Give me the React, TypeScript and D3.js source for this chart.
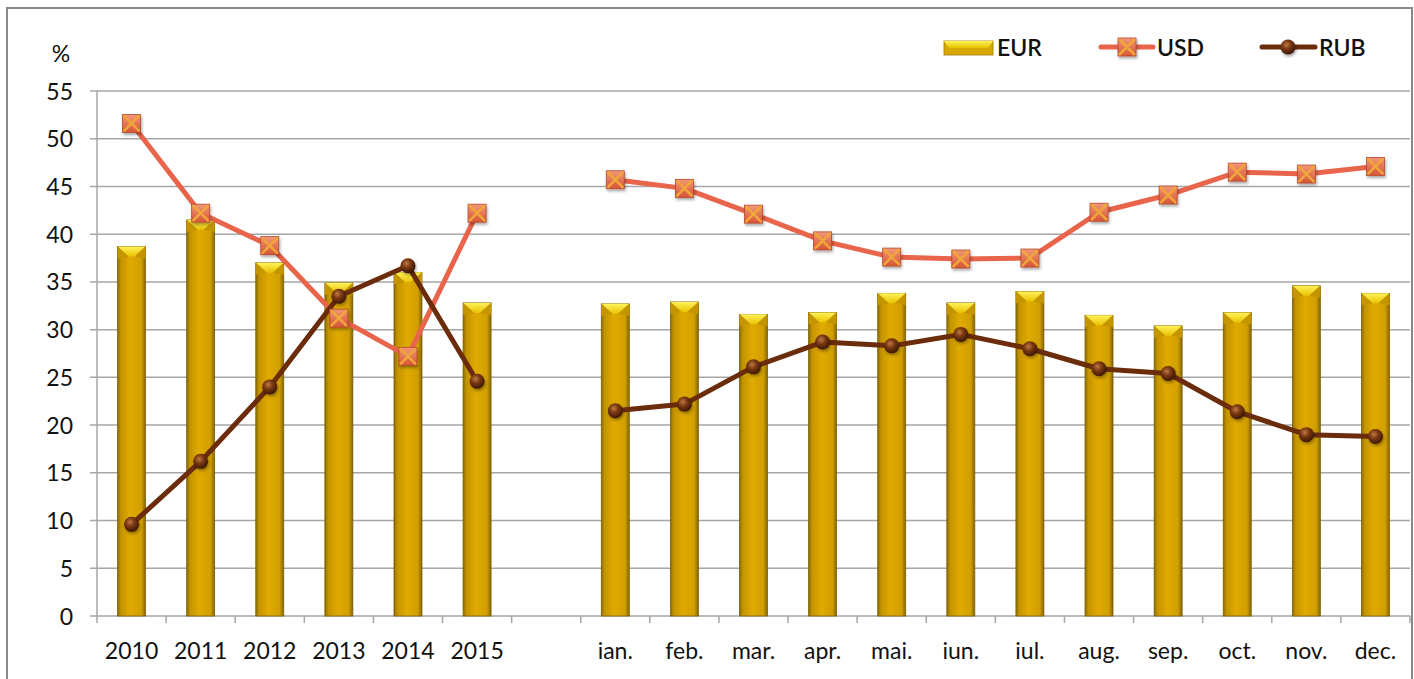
import React, { useEffect, useRef } from "react";
import * as d3 from "d3";

const categories = ["2010", "2011", "2012", "2013", "2014", "2015", "", "ian.", "feb.", "mar.", "apr.", "mai.", "iun.", "iul.", "aug.", "sep.", "oct.", "nov.", "dec."];
const eurValues: (number | null)[] = [38.7, 41.5, 37.0, 34.9, 36.0, 32.8, null, 32.7, 32.9, 31.6, 31.8, 33.8, 32.8, 34.0, 31.5, 30.4, 31.8, 34.6, 33.8];
const usdValues: (number | null)[] = [51.6, 42.2, 38.8, 31.2, 27.2, 42.2, null, 45.7, 44.8, 42.1, 39.3, 37.6, 37.4, 37.5, 42.3, 44.1, 46.5, 46.3, 47.1];
const rubValues: (number | null)[] = [9.6, 16.2, 24.0, 33.5, 36.7, 24.6, null, 21.5, 22.2, 26.1, 28.7, 28.3, 29.5, 28.0, 25.9, 25.4, 21.4, 19.0, 18.8];
const yTicks = [0, 5, 10, 15, 20, 25, 30, 35, 40, 45, 50, 55];

const W = 1414, H = 679;
const FONT = "Lato, 'Open Sans', sans-serif";

export default function App() {
  const ref = useRef<SVGSVGElement>(null);
  useEffect(() => {
    const svg = d3.select(ref.current);
    svg.selectAll("*").remove();
    const left = 97, right = 1410, top = 91, bottom = 616;
    const x = d3.scaleBand<number>().domain(d3.range(categories.length)).range([left, right]).paddingInner(0).paddingOuter(0);
    const y = d3.scaleLinear().domain([0, 55]).range([bottom, top]);

    const defs = svg.append("defs");
    const bg = defs.append("linearGradient").attr("id", "barGrad").attr("x1", 0).attr("x2", 1).attr("y1", 0).attr("y2", 0);
    bg.append("stop").attr("offset", "0%").attr("stop-color", "#8a6a05");
    bg.append("stop").attr("offset", "12%").attr("stop-color", "#c49400");
    bg.append("stop").attr("offset", "45%").attr("stop-color", "#e0aa00");
    bg.append("stop").attr("offset", "85%").attr("stop-color", "#d19f00");
    bg.append("stop").attr("offset", "100%").attr("stop-color", "#846504");
    const cg = defs.append("linearGradient").attr("id", "capGrad").attr("x1", 0).attr("x2", 0).attr("y1", 0).attr("y2", 1);
    cg.append("stop").attr("offset", "0%").attr("stop-color", "#fff35a");
    cg.append("stop").attr("offset", "100%").attr("stop-color", "#e8c200");
    const rg = defs.append("radialGradient").attr("id", "rubGrad").attr("cx", "40%").attr("cy", "35%").attr("r", "65%");
    rg.append("stop").attr("offset", "0%").attr("stop-color", "#c07a45");
    rg.append("stop").attr("offset", "45%").attr("stop-color", "#7a3812");
    rg.append("stop").attr("offset", "100%").attr("stop-color", "#3d1804");
    const ug = defs.append("linearGradient").attr("id", "usdGrad").attr("x1", 0).attr("x2", 0).attr("y1", 0).attr("y2", 1);
    ug.append("stop").attr("offset", "0%").attr("stop-color", "#f29878");
    ug.append("stop").attr("offset", "100%").attr("stop-color", "#d65535");
    const sh = defs.append("filter").attr("id", "shadow").attr("x", "-50%").attr("y", "-50%").attr("width", "200%").attr("height", "200%");
    sh.append("feDropShadow").attr("dx", 1).attr("dy", 2).attr("stdDeviation", 1.5).attr("flood-color", "#000").attr("flood-opacity", 0.35);

    // frame
    svg.append("rect").attr("x", 7).attr("y", 8).attr("width", W - 9).attr("height", H + 20)
      .attr("fill", "white").attr("stroke", "#8a8a8a").attr("stroke-width", 2);

    // gridlines
    svg.append("g").selectAll("line").data(yTicks.filter(t => t > 0)).join("line")
      .attr("x1", left - 7).attr("x2", right).attr("y1", d => y(d)).attr("y2", d => y(d))
      .attr("stroke", "#a6a6a6").attr("stroke-width", 1.5);

    // y axis line
    svg.append("line").attr("x1", left).attr("x2", left).attr("y1", top).attr("y2", bottom)
      .attr("stroke", "#a6a6a6").attr("stroke-width", 1.5);
    // x axis line
    svg.append("line").attr("x1", left - 7).attr("x2", right).attr("y1", bottom).attr("y2", bottom)
      .attr("stroke", "#a6a6a6").attr("stroke-width", 1.5);
    // x ticks
    svg.append("g").selectAll("line").data(d3.range(categories.length + 1)).join("line")
      .attr("x1", i => left + i * x.step()).attr("x2", i => left + i * x.step())
      .attr("y1", bottom).attr("y2", bottom + 7)
      .attr("stroke", "#a6a6a6").attr("stroke-width", 1.5);

    // y labels
    svg.append("g").selectAll("text").data(yTicks).join("text")
      .attr("x", 73).attr("y", d => y(d) + 8.5).attr("text-anchor", "end")
      .attr("font-family", FONT).attr("font-size", 23).attr("fill", "#111").text(d => String(d));
    svg.append("text").attr("x", 61).attr("y", 62).attr("text-anchor", "middle")
      .attr("font-family", FONT).attr("font-size", 23).attr("fill", "#111").text("%");

    // x labels
    svg.append("g").selectAll("text").data(categories).join("text")
      .attr("x", (_, i) => x(i)! + x.bandwidth() / 2).attr("y", 659).attr("text-anchor", "middle")
      .attr("font-family", FONT).attr("font-size", 23).attr("fill", "#111").text(d => d);

    // bars
    const bw = 28;
    const bars = svg.append("g").selectAll("g").data(eurValues.map((v, i) => ({ v, i })).filter(d => d.v !== null)).join("g");
    bars.append("rect")
      .attr("x", d => x(d.i)! + x.bandwidth() / 2 - bw / 2).attr("width", bw)
      .attr("y", d => y(d.v!)).attr("height", d => bottom - y(d.v!))
      .attr("fill", "url(#barGrad)").attr("stroke", "#7d6004").attr("stroke-width", 0.8);
    bars.append("path")
      .attr("d", d => {
        const cx = x(d.i)! + x.bandwidth() / 2, t = y(d.v!);
        const l = cx - bw / 2, r = cx + bw / 2;
        return `M${l},${t} L${r},${t} L${cx + 3},${t + 10} L${cx - 3},${t + 10} Z`;
      })
      .attr("fill", "url(#capGrad)");
    bars.append("path")
      .attr("d", d => {
        const cx = x(d.i)! + x.bandwidth() / 2, t = y(d.v!);
        const l = cx - bw / 2, r = cx + bw / 2;
        return `M${l},${t} L${cx - 3},${t + 10} L${l},${t + 12} Z M${r},${t} L${cx + 3},${t + 10} L${r},${t + 12} Z`;
      })
      .attr("fill", "#c59500");

    const cxOf = (i: number) => x(i)! + x.bandwidth() / 2;
    const lineGen = d3.line<number | null>().defined(d => d !== null).x((_, i) => cxOf(i)).y(d => y(d as number));

    // USD line
    svg.append("path").attr("d", lineGen(usdValues)).attr("fill", "none")
      .attr("stroke", "#e8644a").attr("stroke-width", 5).attr("stroke-linejoin", "round");
    // RUB line
    svg.append("path").attr("d", lineGen(rubValues)).attr("fill", "none")
      .attr("stroke", "#6b2c0b").attr("stroke-width", 5).attr("stroke-linejoin", "round");

    const drawUsdMarker = (g: any, cx: number, cy: number) => {
      const s = 9;
      g.append("rect").attr("x", cx - s).attr("y", cy - s).attr("width", 2 * s).attr("height", 2 * s)
        .attr("fill", "url(#usdGrad)").attr("stroke", "#b4482c").attr("stroke-width", 0.8).attr("filter", "url(#shadow)");
      g.append("path").attr("d", `M${cx - s + 1},${cy - s + 1} L${cx + s - 1},${cy + s - 1} M${cx + s - 1},${cy - s + 1} L${cx - s + 1},${cy + s - 1}`)
        .attr("stroke", "#f0a63a").attr("stroke-width", 2.5);
    };
    const drawRubMarker = (g: any, cx: number, cy: number) => {
      g.append("circle").attr("cx", cx).attr("cy", cy).attr("r", 7.5)
        .attr("fill", "url(#rubGrad)").attr("filter", "url(#shadow)");
    };

    const usdG = svg.append("g");
    usdValues.forEach((v, i) => { if (v !== null) drawUsdMarker(usdG, cxOf(i), y(v)); });
    const rubG = svg.append("g");
    rubValues.forEach((v, i) => { if (v !== null) drawRubMarker(rubG, cxOf(i), y(v)); });

    // legend
    const lg = svg.append("g");
    lg.append("rect").attr("x", 944).attr("y", 41).attr("width", 49).attr("height", 14)
      .attr("fill", "#d9a800").attr("stroke", "#a07c00").attr("stroke-width", 0.8);
    lg.append("path").attr("d", "M944,41 L993,41 L988,48 L949,48 Z").attr("fill", "url(#capGrad)");
    const legText = (tx: number, t: string) =>
      lg.append("text").attr("x", tx).attr("y", 56).attr("font-family", FONT)
        .attr("font-size", 23).attr("font-weight", 600).attr("fill", "#111").text(t);
    legText(997, "EUR");
    lg.append("line").attr("x1", 1101).attr("x2", 1153).attr("y1", 47).attr("y2", 47)
      .attr("stroke", "#e8644a").attr("stroke-width", 5).attr("stroke-linecap", "round");
    drawUsdMarker(lg, 1127, 47);
    legText(1157, "USD");
    lg.append("line").attr("x1", 1262).attr("x2", 1315).attr("y1", 47).attr("y2", 47)
      .attr("stroke", "#6b2c0b").attr("stroke-width", 5).attr("stroke-linecap", "round");
    drawRubMarker(lg, 1288, 47);
    legText(1319, "RUB");
  }, []);
  return (
    <svg ref={ref} width={W} height={H} style={{ position: "absolute", left: 0, top: 0, display: "block" }} />
  );
}
